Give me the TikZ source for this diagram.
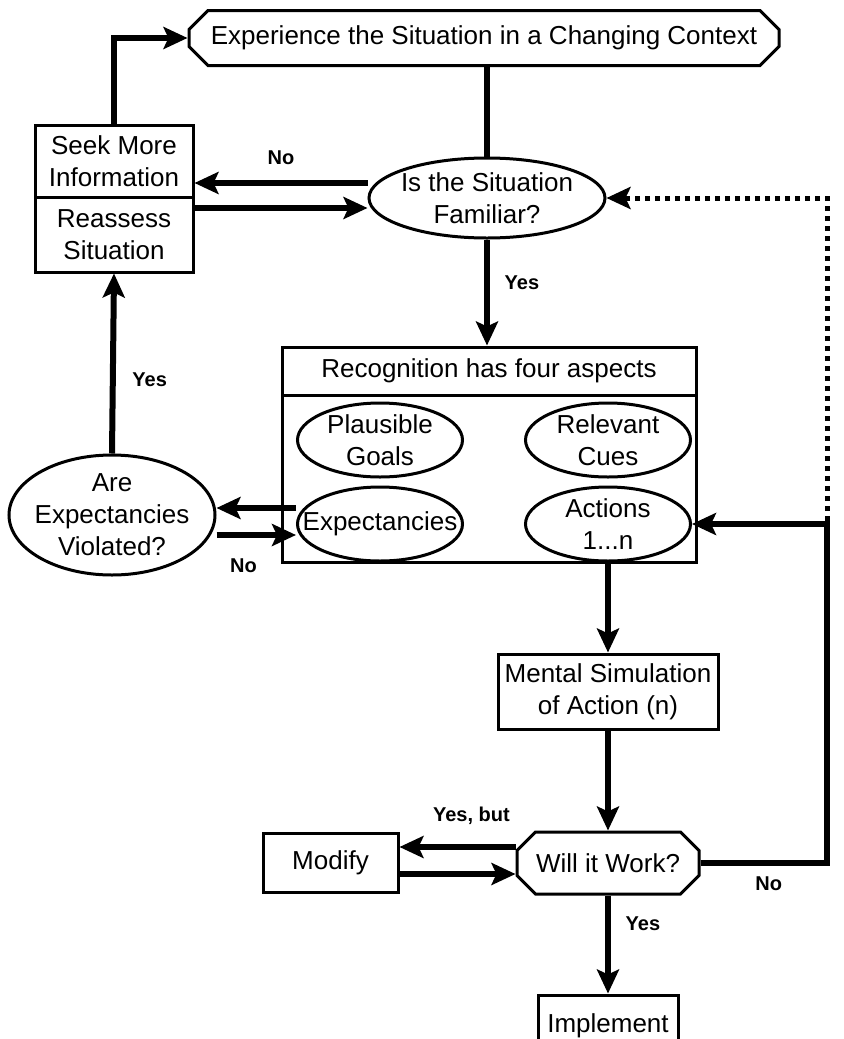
\documentclass[tikz,border=0pt]{standalone}
\usepackage{fontspec}
\setmainfont{Liberation Sans}
\usetikzlibrary{positioning,shapes.misc,shapes.geometric,arrows.meta}

\tikzset{
  box/.style={draw, line width=1.5pt, rectangle, inner sep=1pt, align=center},
  oval/.style={draw, line width=1.5pt, ellipse, inner sep=0pt},
  cham/.style={draw, line width=1.5pt, chamfered rectangle, chamfered rectangle xsep=6pt, inner sep=1pt, align=center},
  conn/.style={line width=3pt},
  arr/.style={line width=3pt, -{Stealth[length=12pt, width=11pt, inset=2.5pt]}},
  dotarr/.style={line width=2.5pt, dash pattern=on 2.5pt off 2.5pt, -{Stealth[length=12pt, width=11pt, inset=2.5pt]}},
  lbl/.style={font=\fontsize{10}{12}\selectfont\bfseries},
  every label/.style={align=center}
}

\begin{document}
\begin{tikzpicture}[x=0.5pt, y=-0.5pt, font=\fontsize{13}{16}\selectfont]
      \useasboundingbox (0,0) rectangle (844,1039);
      % Define nodes
      \node[cham, minimum width=295pt, minimum height=27.5pt] (exp) at (484,38) {Experience the Situation in a Changing Context};
      \node[oval, minimum width=118pt, minimum height=40pt, label=center:{Is the Situation\\Familiar?}] (fam) at (487,198) {};
      \node[box, minimum width=79pt, minimum height=36pt] (seek) at (114,161) {Seek More\\Information};
      \node[box, minimum width=79pt, minimum height=37.5pt, below=-1.5pt of seek] (reas) {Reassess\\Situation};
      \node[box, minimum width=207pt, minimum height=24pt] (rectitle) at (489,371) {Recognition has four aspects};
      \node[box, minimum width=207pt, minimum height=83.5pt, below=-1.5pt of rectitle] (recbody) {};
      \node[oval, minimum width=82.5pt, minimum height=37pt, label=center:{Plausible\\Goals}] (goals) at (380,440) {};
      \node[oval, minimum width=82.5pt, minimum height=37pt, label=center:{Relevant\\Cues}, right=30pt of goals] (cues) {};
      \node[oval, minimum width=82.5pt, minimum height=37pt, label=center:{Expectancies}, below=3.5pt of goals] (expect) {};
      \node[oval, minimum width=82.5pt, minimum height=37pt, label=center:{Actions\\1...n}, right=30pt of expect] (actions) {};
      \node[oval, minimum width=103pt, minimum height=60pt, label=center:{Are\\Expectancies\\Violated?}] (viol) at (112,515) {};
      \node[box, minimum width=110pt, minimum height=37.5pt, below=45pt of actions] (mental) {Mental Simulation\\of Action (n)};
      \node[cham, minimum width=91pt, minimum height=31pt, below=50pt of mental] (work) {Will it Work?};
      \node[box, minimum width=67.5pt, minimum height=29.5pt, left=58pt of work] (modify) {Modify};
      \node[box, minimum width=70pt, minimum height=31pt, below=49pt of work] (impl) {Implement};
      \coordinate (rt) at (827,0);
      % Connect nodes
      \draw[conn] (exp.south -| fam.north) -- (fam.north);
      \draw[arr] (seek.north) |- (exp.west);
      \draw[arr] ([yshift=7.5pt]fam.west) -- ([yshift=7.5pt]fam.west -| seek.east) node[lbl, midway, above=4.5pt] {No};
      \draw[arr] ([yshift=-5pt]fam.west -| seek.east) -- ([yshift=-5pt]fam.west);
      \draw[arr] (fam.south) -- (fam.south |- rectitle.north) node[lbl, pos=0.41, right=4pt] {Yes};
      \draw[arr] ([yshift=8pt]expect.west) -- ([yshift=8pt]expect.west -| viol.east);
      \draw[arr] ([yshift=-5.5pt]expect.west -| viol.east) -- ([yshift=-5.5pt]expect.west) node[lbl, pos=0.34, below=7pt] {No};
      \draw[arr] (viol.north) -- (reas.south) node[lbl, pos=0.41, right=5pt] {Yes};
      \draw[arr] (actions.south) -- (mental.north);
      \draw[arr] (mental.south) -- (work.north);
      \draw[arr] ([yshift=8pt]work.west) -- ([yshift=8pt]work.west -| modify.east) node[lbl, pos=0.38, above=6.5pt] {Yes, but};
      \draw[arr] ([yshift=-5.5pt]work.west -| modify.east) -- ([yshift=-5.5pt]work.west);
      \draw[arr] (work.south) -- (impl.north) node[lbl, pos=0.29, right=4pt] {Yes};
      \draw[arr] (work.east) -- (work.east -| rt) node[lbl, pos=0.54, below=2pt] {No} |- (actions.east);
      \draw[dotarr] ([yshift=1.5pt]actions.east -| rt) |- (fam.east);
    \end{tikzpicture}
\end{document}
